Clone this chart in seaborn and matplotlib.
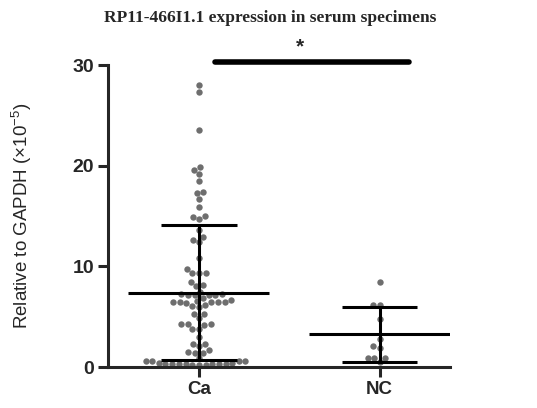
import numpy as np
import pandas as pd
import matplotlib
matplotlib.use("Agg")
import matplotlib.pyplot as plt
import seaborn as sns

categories = ["Ca", "NC"]
ca_values = [28.0, 27.3, 23.5, 19.9, 19.6, 19.2, 18.5, 17.4, 17.3, 16.7, 15.9, 15.0, 14.9, 14.7,
             13.6, 12.9, 12.6, 12.4, 10.8,
             9.7, 9.3, 9.3, 9.3, 8.4, 8.0, 8.1, 7.5,
             7.3, 7.2, 7.2, 7.3, 7.2, 7.2,
             6.9, 6.7, 6.6, 6.5, 6.5, 6.5, 6.4, 6.5, 6.5,
             6.2, 6.1, 6.0, 5.3, 5.3, 4.9,
             4.3, 4.3, 4.2, 4.3, 3.8, 3.8, 3.0,
             2.3, 2.1, 2.3, 1.7, 1.4, 1.4, 1.5, 0.9,
             0.6, 0.6, 0.4, 0.3, 0.3, 0.3, 0.2, 0.2, 0.3, 0.3, 0.3, 0.4, 0.6, 0.6, 0.2, 0.3]
nc_values = [8.4, 6.2, 6.2, 4.8, 2.8, 2.1, 1.9, 0.9, 0.9, 0.9, 0.5]
y_ticks = [0, 10, 20, 30]
title_text = "RP11-466I1.1 expression in serum specimens"
ylabel_text = "Relative to GAPDH (×10$^{\\mathregular{-5}}$)"

df = pd.DataFrame({
    "group": ["Ca"] * len(ca_values) + ["NC"] * len(nc_values),
    "value": ca_values + nc_values,
})

sns.set_style("ticks")
plt.rcParams["font.family"] = ["Liberation Sans", "DejaVu Sans"]

fig = plt.figure(figsize=(5.37, 4.08), dpi=100)
ax = fig.add_axes([108 / 537, 1 - 367 / 408, (450 - 108) / 537, (367 - 65) / 408])

sns.swarmplot(data=df, x="group", y="value", order=categories, color="#6e6e6e",
              size=4.6, ax=ax, zorder=2)

lw = 2.2
for i, vals in enumerate([ca_values, nc_values]):
    arr = np.asarray(vals)
    m = arr.mean()
    s = arr.std(ddof=1)
    ax.hlines(m, i - 0.39, i + 0.39, color="black", lw=lw, zorder=3)
    ax.hlines([m - s, m + s], i - 0.21, i + 0.21, color="black", lw=lw, zorder=3)
    ax.vlines(i, m - s, m + s, color="black", lw=lw, zorder=3)

ax.set_xlim(-0.503, 1.39)
ax.set_ylim(0, 30)
ax.set_yticks(y_ticks)
ax.set_yticklabels([str(t) for t in y_ticks], fontsize=14, fontweight="bold")
ax.set_xticks([0, 1])
ax.set_xticklabels(categories, fontsize=13.5, fontweight="bold")
ax.set_xlabel("")
ax.set_ylabel(ylabel_text, fontsize=13.5)
ax.yaxis.set_label_coords(-0.215, 0.5)
sns.despine(ax=ax)
for sp in ["left", "bottom"]:
    ax.spines[sp].set_linewidth(lw)
ax.tick_params(axis="both", width=lw, length=7, direction="out", pad=3)

ax.plot([0.09, 1.165], [30.3, 30.3], color="black", lw=4, solid_capstyle="round",
        clip_on=False, zorder=4)
ax.text(0.558, 30.9, "*", ha="center", va="bottom", fontsize=15, fontweight="bold",
        clip_on=False)

fig.text(0.503, 1 - 18 / 408, title_text, ha="center", va="center",
         family=["Liberation Serif", "DejaVu Serif"], fontweight="bold", fontsize=12.5)

fig.savefig("out.png", dpi=100)
